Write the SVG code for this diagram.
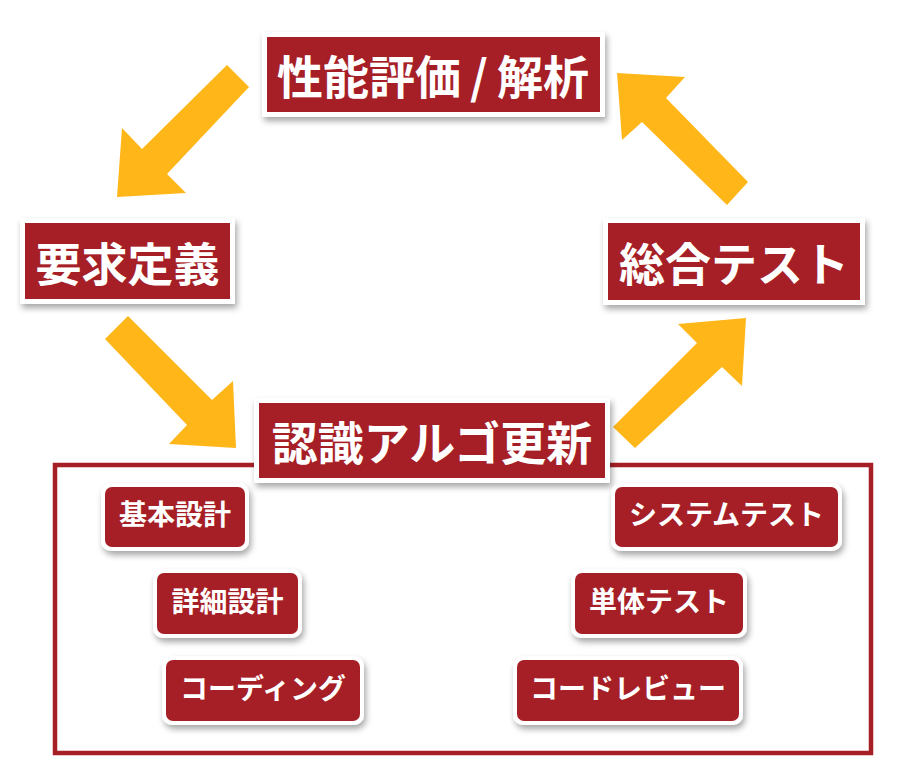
<svg xmlns="http://www.w3.org/2000/svg" width="920" height="780" viewBox="0 0 920 780">
<defs>
<filter id="sh" x="-20%" y="-20%" width="140%" height="160%">
<feDropShadow dx="2" dy="4" stdDeviation="3" flood-color="#000" flood-opacity="0.35"/>
</filter>
</defs>
<style>
.frame{fill:#fff;filter:url(#sh)}
.red{fill:#A61F26}
.big{font-family:"Noto Sans CJK JP","Noto Sans CJK SC",sans-serif;font-weight:bold;fill:#fff;text-anchor:middle;dominant-baseline:central}
.bt{font-size:46px}
.st{font-size:28px}
.arrow{fill:#FFB619}
.outer{fill:none;stroke:#A61F26;stroke-width:4.5}
</style>
<rect width="920" height="780" fill="#fff"/>
<g id="connectors">
<polygon class="arrow" points="227,65 142,149 122,128 117,197 186,193 167,174 249,87"/>
<polygon class="arrow" points="617,73 685,77 666,98 748,182 727,205 642,122 622,140"/>
<polygon class="arrow" points="128,316 212,400 233,381 236,448 169,444 187,425 105,339"/>
<polygon class="arrow" points="613,427 697,343 678,324 746,318 742,386 722,367 635,448"/>
</g>
<g id="group-box">
<rect class="outer" x="55" y="465" width="816" height="288"/>
</g>
<g id="n-eval">
<rect class="frame" x="262" y="32" width="343" height="85"/>
<rect class="red" x="267" y="37" width="333" height="75"/>
<text class="big bt" x="433" y="74" font-size="45">性能評価<tspan dx="9">/</tspan><tspan dx="9">解析</tspan></text>
</g>
<g id="n-req">
<rect class="frame" x="20" y="218" width="215" height="86"/>
<rect class="red" x="25" y="223" width="205" height="76"/>
<text class="big bt" x="127.5" y="261">要求定義</text>
</g>
<g id="n-integ">
<rect class="frame" x="603" y="218" width="262" height="87"/>
<rect class="red" x="608" y="223" width="252" height="77"/>
<text class="big bt" x="734" y="261">総合テスト</text>
</g>
<g id="n-algo">
<rect class="frame" x="254" y="398" width="356" height="85"/>
<rect class="red" x="259" y="403" width="346" height="75"/>
<text class="big bt" x="432" y="440">認識アルゴ更新</text>
</g>
<g id="n-basic">
<rect class="frame" x="101" y="483" width="148" height="68" rx="10"/>
<rect class="red" x="105" y="487" width="140" height="60" rx="7"/>
<text class="big st" x="175" y="513">基本設計</text>
</g>
<g id="n-detail">
<rect class="frame" x="153" y="569" width="149" height="69" rx="10"/>
<rect class="red" x="157" y="573" width="141" height="61" rx="7"/>
<text class="big st" x="227.5" y="600">詳細設計</text>
</g>
<g id="n-coding">
<rect class="frame" x="162" y="656" width="202" height="69" rx="10"/>
<rect class="red" x="166" y="660" width="194" height="61" rx="7"/>
<text class="big st" x="263" y="687">コーディング</text>
</g>
<g id="n-systest">
<rect class="frame" x="611" y="483" width="231" height="68" rx="10"/>
<rect class="red" x="615" y="487" width="223" height="60" rx="7"/>
<text class="big st" x="726.5" y="513">システムテスト</text>
</g>
<g id="n-unittest">
<rect class="frame" x="571" y="569" width="176" height="69" rx="10"/>
<rect class="red" x="575" y="573" width="168" height="61" rx="7"/>
<text class="big st" x="659" y="600">単体テスト</text>
</g>
<g id="n-review">
<rect class="frame" x="513" y="656" width="230" height="69" rx="10"/>
<rect class="red" x="517" y="660" width="222" height="61" rx="7"/>
<text class="big st" x="628" y="687">コードレビュー</text>
</g>
</svg>
